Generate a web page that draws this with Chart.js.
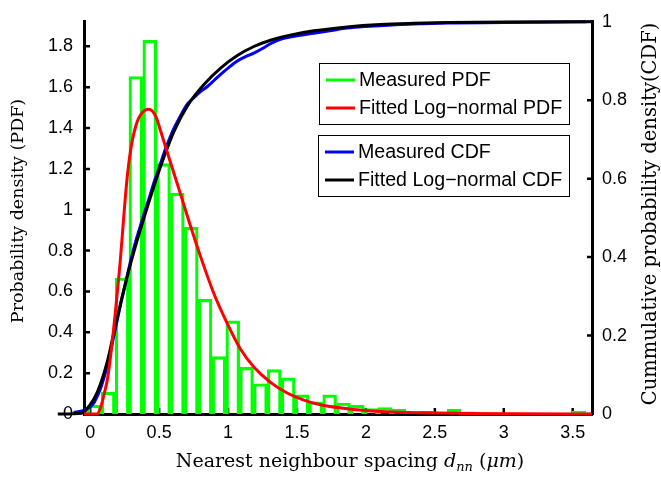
<!DOCTYPE html>
<html>
<head>
<meta charset="utf-8">
<script src="https://cdn.jsdelivr.net/npm/chart.js@4.4.0/dist/chart.umd.min.js"></script>
<style>
body{margin:0;background:#fff}
canvas{display:block}
</style>
</head>
<body>
<canvas id="chart" width="661" height="478"></canvas>
<script>
// histogram: bin centres (um) and measured PDF height per bin
const binCentres = [0.030, 0.130, 0.231, 0.331, 0.432, 0.532, 0.632, 0.733, 0.833, 0.934,
  1.034, 1.134, 1.235, 1.335, 1.436, 1.536, 1.636, 1.737, 1.837, 1.938,
  2.038, 2.138, 2.239, 2.339, 2.440, 2.540, 2.640, 2.741, 2.841, 2.942,
  3.042, 3.142, 3.243, 3.343, 3.444, 3.544];
const measuredPdf = [0.043, 0.107, 0.666, 1.652, 1.829, 1.226, 1.081, 0.914, 0.561, 0.281,
  0.456, 0.228, 0.148, 0.217, 0.177, 0.094, 0.060, 0.094, 0.054, 0.043,
  0.027, 0.032, 0.023, 0.011, 0.013, 0, 0.023, 0.011, 0, 0,
  0, 0, 0, 0, 0, 0.014];

// fitted log-normal PDF [x, pdf]
const fittedPdf = [[-0.045,0],[0.05,0],[0.075,0.03],[0.1,0.095],[0.125,0.17],[0.149,0.29],
  [0.185,0.516],[0.221,0.773],[0.245,0.98],[0.27,1.17],[0.295,1.3],[0.317,1.375],
  [0.34,1.43],[0.366,1.465],[0.4,1.488],[0.426,1.492],[0.475,1.458],[0.511,1.385],
  [0.583,1.23],[0.656,1.075],[0.716,0.945],[0.801,0.77],[0.897,0.59],[1.0,0.435],
  [1.09,0.318],[1.187,0.23],[1.308,0.155],[1.429,0.103],[1.55,0.068],[1.67,0.045],
  [1.91,0.022],[2.15,0.011],[2.39,0.006],[2.7,0.003],[3.1,0.001],[3.64,0]];

// measured (empirical) CDF [x, cdf]
const measuredCdf = [[-0.12,0.004],[-0.06,0.008],[-0.03,0.012],[0.0,0.018],[0.03,0.03],
  [0.076,0.066],[0.125,0.125],[0.172,0.2],[0.221,0.28],[0.27,0.355],[0.3,0.4],[0.33,0.44],
  [0.36,0.475],[0.39,0.51],[0.43,0.553],[0.462,0.59],[0.5,0.628],[0.535,0.665],[0.57,0.697],
  [0.607,0.728],[0.65,0.757],[0.704,0.79],[0.75,0.806],[0.8,0.822],[0.85,0.835],[0.9,0.851],
  [0.946,0.866],[1.0,0.882],[1.067,0.9],[1.12,0.91],[1.187,0.92],[1.25,0.932],[1.308,0.944],
  [1.38,0.955],[1.45,0.961],[1.55,0.967],[1.622,0.971],[1.75,0.978],[1.864,0.984],[2.0,0.988],
  [2.105,0.99],[2.25,0.993],[2.4,0.995],[2.6,0.997],[3.0,0.998],[3.6,1.0]];

// fitted log-normal CDF [x, cdf]
const fittedCdf = [[-0.235,0],[-0.06,0.002],[-0.03,0.01],[0.0,0.024],[0.03,0.04],
  [0.076,0.078],[0.125,0.135],[0.172,0.208],[0.221,0.283],[0.27,0.353],[0.33,0.43],
  [0.39,0.5],[0.462,0.58],[0.535,0.655],[0.607,0.72],[0.704,0.785],[0.825,0.84],
  [0.946,0.882],[1.067,0.914],[1.187,0.937],[1.308,0.953],[1.45,0.966],[1.622,0.977],
  [1.864,0.987],[2.105,0.993],[2.346,0.996],[2.6,0.998],[3.0,0.9995],[3.64,1.0]];

const xRange = [-0.045, 3.64];
const xTicks = [0, 0.5, 1, 1.5, 2, 2.5, 3, 3.5];
const pdfTicks = [0, 0.2, 0.4, 0.6, 0.8, 1, 1.2, 1.4, 1.6, 1.8];
const cdfTicks = [0, 0.2, 0.4, 0.6, 0.8, 1];

const pdfTitle = 'Probability density (PDF)';
const cdfTitle = 'Cummulative probability density(CDF)';

const toPts = arr => arr.map(([x, y]) => ({x, y}));
const tickFont = {family: 'Liberation Sans', size: 18};
const serif = '"DejaVu Serif"';

// MATLAB style ticks pointing into the plot
const inwardTicks = {
  id: 'inwardTicks',
  beforeDatasetsDraw(chart){
    const {ctx, chartArea: a, scales} = chart;
    ctx.save();
    ctx.strokeStyle = '#000';
    ctx.lineWidth = 2.5;
    ctx.beginPath();
    xTicks.forEach(v => { const p = scales.x.getPixelForValue(v); ctx.moveTo(p, a.bottom); ctx.lineTo(p, a.bottom - 6); });
    pdfTicks.forEach(v => { const p = scales.y.getPixelForValue(v); ctx.moveTo(a.left, p); ctx.lineTo(a.left + 6, p); });
    cdfTicks.forEach(v => { const p = scales.y1.getPixelForValue(v); ctx.moveTo(a.right, p); ctx.lineTo(a.right - 5, p); });
    ctx.stroke();
    ctx.restore();
  }
};

// two boxed legends: PDF pair and CDF pair
const boxLegend = {
  id: 'boxLegend',
  afterDraw(chart){
    const {ctx} = chart;
    const ds = chart.data.datasets;
    const boxes = [
      {x: 319, y: 63, w: 250, h: 61, rows: [ds[0], ds[1]]},
      {x: 318, y: 135, w: 251, h: 61, rows: [ds[2], ds[3]]},
    ];
    ctx.save();
    ctx.font = '19.6px "Liberation Sans"';
    ctx.textBaseline = 'middle';
    ctx.textAlign = 'left';
    for(const b of boxes){
      ctx.fillStyle = '#fff';
      ctx.fillRect(b.x, b.y, b.w, b.h);
      ctx.strokeStyle = '#000';
      ctx.lineWidth = 1;
      ctx.strokeRect(b.x + 0.5, b.y + 0.5, b.w, b.h);
      b.rows.forEach((d, i) => {
        const y = b.y + 17 + i * 28;
        ctx.strokeStyle = d.borderColor;
        ctx.lineWidth = 3;
        ctx.beginPath(); ctx.moveTo(b.x + 7, y); ctx.lineTo(b.x + 36, y); ctx.stroke();
        ctx.fillStyle = '#000';
        ctx.fillText(d.label, b.x + 40, y + 1);
      });
    }
    ctx.restore();
  }
};

// axis titles (serif, mixed italic / subscript on x)
const axisTitles = {
  id: 'axisTitles',
  afterDraw(chart){
    const {ctx} = chart;
    ctx.save();
    ctx.fillStyle = '#000';
    ctx.textAlign = 'center';
    ctx.textBaseline = 'middle';
    ctx.font = '17.5px ' + serif;
    ctx.save(); ctx.translate(18, 211); ctx.rotate(-Math.PI / 2); ctx.fillText(pdfTitle, 0, 0); ctx.restore();
    ctx.font = '19.5px ' + serif;
    ctx.save(); ctx.translate(651, 214); ctx.rotate(-Math.PI / 2); ctx.fillText(cdfTitle, 0, 0); ctx.restore();

    const runs = [
      ['Nearest neighbour spacing ', '19px ' + serif, 0],
      ['d', 'italic 19px ' + serif, 0],
      ['nn', 'italic 13px ' + serif, 4],
      [' (', '19px ' + serif, 0],
      ['\u03bcm', 'italic 19px ' + serif, 0],
      [')', '19px ' + serif, 0],
    ];
    let total = 0;
    for(const r of runs){ ctx.font = r[1]; total += ctx.measureText(r[0]).width; }
    let x = 350 - total / 2;
    ctx.textAlign = 'left';
    ctx.textBaseline = 'alphabetic';
    for(const r of runs){
      ctx.font = r[1];
      ctx.fillText(r[0], x, 467 + r[2]);
      x += ctx.measureText(r[0]).width;
    }
    ctx.restore();
  }
};

const lineBase = {type: 'line', borderWidth: 3, pointRadius: 0, fill: false, cubicInterpolationMode: 'monotone', clip: false};

new Chart(document.getElementById('chart'), {
  type: 'line',
  data: {
    datasets: [
      {type: 'bar', label: 'Measured PDF', yAxisID: 'y', order: 3,
        data: binCentres.map((x, i) => ({x, y: measuredPdf[i]})),
        backgroundColor: 'rgba(0,0,0,0)', borderColor: '#00ff00', borderWidth: 2.5,
        barPercentage: 1, categoryPercentage: 1},
      {...lineBase, label: 'Fitted Log\u2212normal PDF', yAxisID: 'y', order: 0, borderColor: '#ff0000', data: toPts(fittedPdf)},
      {...lineBase, label: 'Measured CDF', yAxisID: 'y1', order: 2, borderColor: '#0000ff', data: toPts(measuredCdf)},
      {...lineBase, label: 'Fitted Log\u2212normal CDF', yAxisID: 'y1', order: 1, borderColor: '#000000', data: toPts(fittedCdf)},
    ]
  },
  options: {
    responsive: false,
    devicePixelRatio: 1,
    animation: false,
    events: [],
    layout: {padding: {top: 15, left: 0, right: 0, bottom: 0}},
    plugins: {legend: {display: false}, tooltip: {enabled: false}},
    scales: {
      x: {
        type: 'linear', position: 'bottom', bounds: 'data', offset: false,
        afterDataLimits: s => { s.min = xRange[0]; s.max = xRange[1]; },
        afterBuildTicks: s => { s.ticks = xTicks.map(v => ({value: v})); },
        afterFit: s => { s.height = 64; },
        grid: {display: false, drawTicks: false},
        border: {display: true, width: 3, color: '#000'},
        ticks: {color: '#000', padding: 8, font: tickFont, maxRotation: 0, autoSkip: false, callback: v => String(v)},
      },
      y: {
        type: 'linear', position: 'left', min: 0, max: 1.92,
        afterBuildTicks: s => { s.ticks = pdfTicks.map(v => ({value: v})); },
        afterFit: s => { s.width = 84; },
        grid: {display: false, drawTicks: false},
        border: {display: true, width: 3, color: '#000'},
        ticks: {color: '#000', padding: 11, font: tickFont, autoSkip: false, callback: v => String(v)},
      },
      y1: {
        type: 'linear', position: 'right', min: 0, max: 1,
        afterBuildTicks: s => { s.ticks = cdfTicks.map(v => ({value: v})); },
        afterFit: s => { s.width = 69; },
        grid: {display: false, drawTicks: false},
        border: {display: true, width: 3, color: '#000'},
        ticks: {color: '#000', padding: 10, font: tickFont, autoSkip: false, callback: v => String(v)},
      },
    }
  },
  plugins: [inwardTicks, boxLegend, axisTitles]
});
</script>
</body>
</html>
